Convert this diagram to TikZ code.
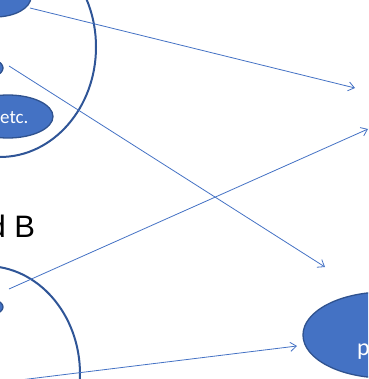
\documentclass[tikz,border=0pt]{standalone}
\usepackage{fontspec}
\setmainfont{Liberation Sans}
\newfontfamily\calib{Carlito}
\usetikzlibrary{shapes.geometric,arrows.meta}
\definecolor{fillblue}{HTML}{4472C4}
\definecolor{edgeblue}{HTML}{2F528F}
\definecolor{ringblue}{HTML}{2F5597}
\tikzset{
  blob/.style={ellipse, fill=fillblue, draw=edgeblue, line width=1.3pt, inner sep=0pt},
  ring/.style={ellipse, draw=ringblue, line width=2pt, inner sep=0pt},
  link/.style={draw=fillblue, line width=0.8pt, -{Straight Barb[length=6pt,width=9pt]}},
  lbl/.style={text=white, inner sep=0pt, font=\calib\fontsize{19}{19}\selectfont}
}
\begin{document}
\begin{tikzpicture}[x=1pt,y=-1pt]
\useasboundingbox (0,0) rectangle (368,379);
\clip (0,0) rectangle (368,379);
% groups
\node[ring, minimum width=192pt, minimum height=220pt] (ringA) at (0,47) {};
\node[ring, minimum width=188pt, minimum height=216pt] (ringB) at (-14,374) {};
% members
\node[blob, minimum width=72pt, minimum height=40pt] (topblob) at (-5,-3) {};
\node[blob, minimum width=46pt, minimum height=22pt] (midblob) at (-20,68) {};
\node[blob, minimum width=90pt, minimum height=43pt] (etcblob) at (8,116.5) {};
\node[lbl, anchor=base west] (etc) at (0,124) {etc.};
\node[blob, minimum width=46pt, minimum height=20pt] (lowblob) at (-20,307) {};
\node[blob, minimum width=164pt, minimum height=86pt] (target) at (385,335) {};
\node[lbl, anchor=base west, font=\calib\fontsize{24}{24}\selectfont] (ptext) at (357,355) {p};
% title
\node[inner sep=0pt, anchor=base east, font=\fontsize{31}{31}\selectfont] (title) at (35.4,237.7) {and B};
% connector ends
\coordinate (s1) at (30,8);
\coordinate (e1) at (355,88);
\coordinate (s2) at (9,66);
\coordinate (e2) at (325,267);
\coordinate (s3) at (9,289);
\coordinate (e3) at (368,129);
\coordinate (s4) at (20,380);
\coordinate (e4) at (297,346);
\draw[link] (s1) -- (e1);
\draw[link] (s2) -- (e2);
\draw[link] (s3) -- (e3);
\draw[link] (s4) -- (e4);
\end{tikzpicture}
\end{document}
